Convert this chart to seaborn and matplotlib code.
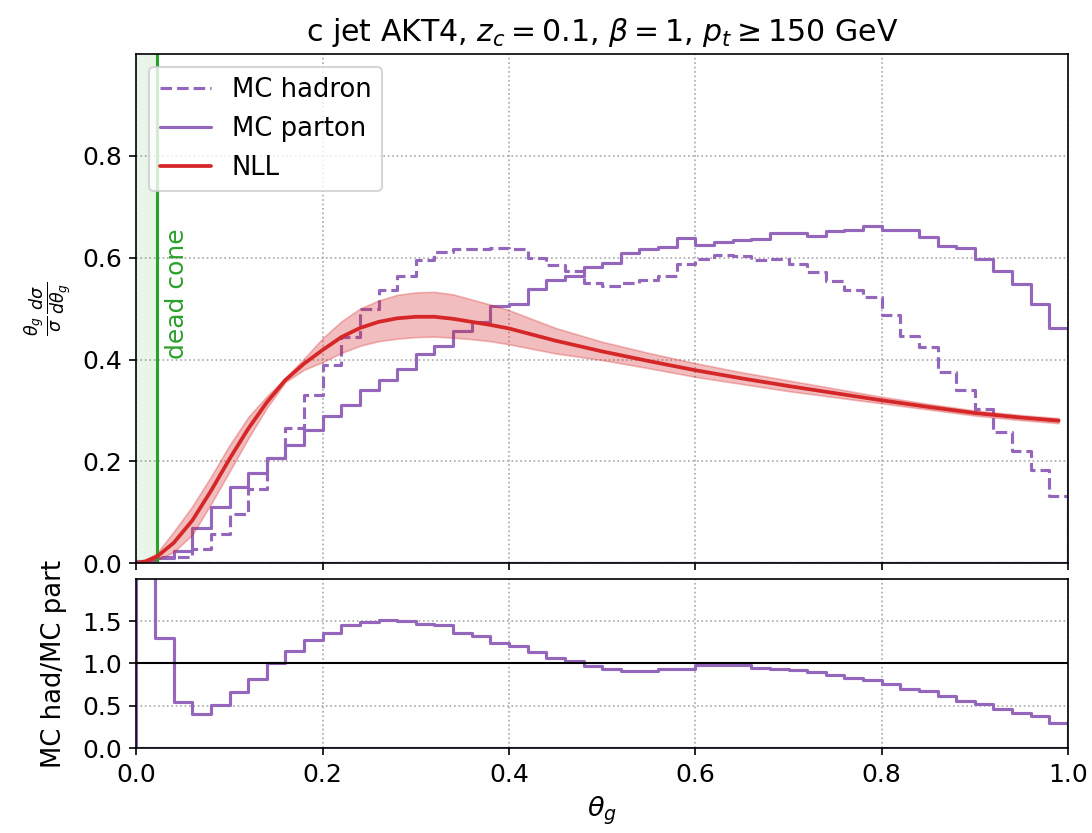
import numpy as np
import pandas as pd
import matplotlib
matplotlib.use("Agg")
import matplotlib.pyplot as plt
from matplotlib.lines import Line2D
import seaborn as sns

# ---------------- data ----------------
bin_edges = [round(0.02 * i, 2) for i in range(51)]

mc_parton = [0.002, 0.010, 0.025, 0.069, 0.111, 0.149, 0.178, 0.206, 0.233, 0.261,
             0.289, 0.310, 0.341, 0.359, 0.382, 0.410, 0.427, 0.457, 0.474, 0.506,
             0.510, 0.539, 0.557, 0.565, 0.582, 0.589, 0.610, 0.618, 0.621, 0.638,
             0.624, 0.631, 0.634, 0.637, 0.649, 0.649, 0.642, 0.652, 0.654, 0.663,
             0.655, 0.654, 0.640, 0.623, 0.620, 0.597, 0.574, 0.548, 0.510, 0.462]

mc_hadron = [0.005, 0.013, 0.013, 0.028, 0.057, 0.097, 0.145, 0.206, 0.266, 0.330,
             0.390, 0.445, 0.500, 0.537, 0.565, 0.595, 0.611, 0.618, 0.618, 0.620,
             0.618, 0.600, 0.585, 0.573, 0.551, 0.544, 0.550, 0.557, 0.565, 0.587,
             0.598, 0.605, 0.603, 0.595, 0.598, 0.588, 0.572, 0.555, 0.536, 0.522,
             0.488, 0.446, 0.425, 0.376, 0.340, 0.303, 0.258, 0.221, 0.183, 0.133]

ratio_had_part = [2.60, 1.30, 0.54, 0.40, 0.51, 0.66, 0.82, 1.00, 1.15, 1.28,
                  1.36, 1.45, 1.49, 1.51, 1.50, 1.47, 1.46, 1.36, 1.32, 1.24,
                  1.21, 1.13, 1.07, 1.03, 0.97, 0.94, 0.91, 0.91, 0.93, 0.94,
                  0.98, 0.98, 0.98, 0.95, 0.94, 0.92, 0.90, 0.86, 0.83, 0.80,
                  0.76, 0.70, 0.67, 0.61, 0.56, 0.52, 0.46, 0.41, 0.38, 0.30]

nll_theta = [0.0, 0.01, 0.022, 0.04, 0.06, 0.08, 0.10, 0.12, 0.14, 0.16, 0.18, 0.20,
             0.22, 0.24, 0.26, 0.28, 0.30, 0.32, 0.34, 0.36, 0.38, 0.40, 0.45, 0.50,
             0.55, 0.60, 0.65, 0.70, 0.75, 0.80, 0.85, 0.90, 0.95, 0.99]
nll_central = [0.0, 0.004, 0.013, 0.040, 0.084, 0.142, 0.205, 0.264, 0.316, 0.360,
               0.392, 0.419, 0.444, 0.462, 0.474, 0.481, 0.484, 0.484, 0.480, 0.474,
               0.468, 0.461, 0.437, 0.416, 0.397, 0.379, 0.363, 0.348, 0.334, 0.320,
               0.307, 0.295, 0.286, 0.280]
nll_low = [0.0, 0.002, 0.006, 0.022, 0.056, 0.116, 0.180, 0.245, 0.305, 0.356,
           0.380, 0.395, 0.413, 0.427, 0.436, 0.441, 0.444, 0.445, 0.443, 0.440,
           0.436, 0.430, 0.412, 0.399, 0.383, 0.366, 0.352, 0.338, 0.326, 0.314,
           0.302, 0.290, 0.281, 0.275]
nll_high = [0.0, 0.007, 0.020, 0.062, 0.112, 0.170, 0.232, 0.287, 0.328, 0.364,
            0.402, 0.442, 0.475, 0.500, 0.516, 0.527, 0.532, 0.533, 0.528, 0.518,
            0.508, 0.497, 0.462, 0.435, 0.413, 0.393, 0.375, 0.359, 0.343, 0.327,
            0.313, 0.300, 0.291, 0.285]

dead_cone_angle = 0.022

# ---------------- style ----------------
sns.set_style("ticks", rc={"axes.edgecolor": "black", "xtick.color": "black",
                           "ytick.color": "black", "text.color": "black",
                           "axes.labelcolor": "black", "xtick.direction": "out",
                           "ytick.direction": "out"})
plt.rcParams["font.family"] = ["DejaVu Sans"]
plt.rcParams["mathtext.fontset"] = "dejavusans"

purple = "tab:purple"
red = "tab:red"
green = "tab:green"
grid_kw = dict(ls=":", color="#a8a8a8", lw=0.8)

edges_arr = np.array(bin_edges)
centers = (edges_arr[:-1] + edges_arr[1:]) / 2
df = pd.DataFrame({"theta": centers, "parton": mc_parton,
                   "hadron": mc_hadron, "ratio": ratio_had_part})
nll = pd.DataFrame({"theta": nll_theta, "c": nll_central,
                    "lo": nll_low, "hi": nll_high})

fig = plt.figure(figsize=(7.28, 833 / 150), dpi=150)
ax = fig.add_axes([0.1249, 0.3238, 0.8531, 0.6114])
axr = fig.add_axes([0.1249, 0.102, 0.8531, 0.203], sharex=ax)

# ---------------- top panel ----------------
ax.axvspan(0, dead_cone_angle, color=green, alpha=0.1, lw=0)
ax.axvline(dead_cone_angle, color=green, lw=1.5)
ax.text(0.031, 0.53, "dead cone", rotation=90, color=green, fontsize=12,
        ha="left", va="center")

sns.histplot(data=df, x="theta", weights="hadron", bins=bin_edges,
             element="step", fill=True, color=purple, facecolor="none",
             edgecolor=purple, linestyle="--", linewidth=1.5, ax=ax)
sns.histplot(data=df, x="theta", weights="parton", bins=bin_edges,
             element="step", fill=True, color=purple, facecolor="none",
             edgecolor=purple, linestyle="-", linewidth=1.5, ax=ax)

ax.fill_between(nll["theta"], nll["lo"], nll["hi"], color=red, alpha=0.3, lw=0.8)
sns.lineplot(data=nll, x="theta", y="c", color=red, lw=1.8, ax=ax)

ax.set_xlim(0, 1)
ax.set_ylim(0, 1.0)
ax.set_yticks([0.0, 0.2, 0.4, 0.6, 0.8])
ax.grid(True, **grid_kw)
ax.tick_params(labelbottom=False, labelsize=12)
ax.set_xlabel("")
ax.set_ylabel(r"$\frac{\theta_g}{\sigma}\frac{d\sigma}{d\theta_g}$", fontsize=12)
ax.set_title(r"c jet AKT4, $z_c = 0.1$, $\beta = 1$, $p_t \geq 150$ GeV",
             fontsize=14.4)

handles = [Line2D([], [], color=purple, ls="--", lw=1.5),
           Line2D([], [], color=purple, ls="-", lw=1.5),
           Line2D([], [], color=red, ls="-", lw=1.8)]
ax.legend(handles, ["MC hadron", "MC parton", "NLL"], loc="upper left",
          fontsize=12.4, frameon=True)

# ---------------- ratio panel ----------------
sns.histplot(data=df, x="theta", weights="ratio", bins=bin_edges,
             element="step", fill=True, color=purple, facecolor="none",
             edgecolor=purple, linestyle="-", linewidth=1.5, ax=axr)
axr.axhline(1.0, color="black", lw=1)
axr.set_xlim(0, 1)
axr.set_ylim(0, 2)
axr.set_yticks([0.0, 0.5, 1.0, 1.5])
axr.set_xticks([0.0, 0.2, 0.4, 0.6, 0.8, 1.0])
axr.grid(True, **grid_kw)
axr.tick_params(labelsize=12)
axr.set_xlabel(r"$\theta_g$", fontsize=13)
axr.set_ylabel("MC had/MC part", fontsize=12.4, labelpad=7)

fig.savefig("out.png", dpi=150)
